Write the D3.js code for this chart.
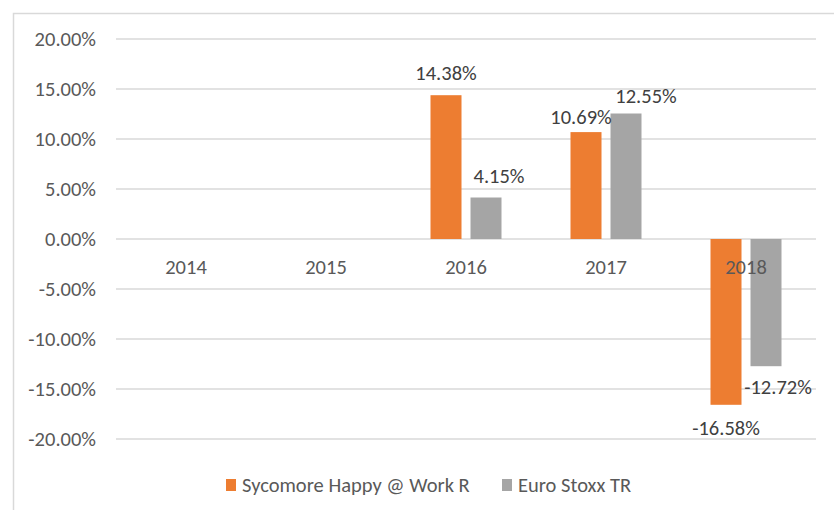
<!DOCTYPE html>
<html>
<head>
<meta charset="utf-8">
<script src="https://cdn.jsdelivr.net/npm/d3@7"></script>
<style>
  body { margin: 0; background: #fff; }
  #viz text { font-family: Carlito, Calibri, "Liberation Sans", Arial, sans-serif; fill: #595959; }
</style>
</head>
<body>
<div id="viz"></div>
<script>
const years = ["2014", "2015", "2016", "2017", "2018"];
const seriesNames = ["Sycomore Happy @ Work R", "Euro Stoxx TR"];
const sycomore = [null, null, 0.1438, 0.1069, -0.1658];
const euroStoxx = [null, null, 0.0415, 0.1255, -0.1272];
const yTicks = [-0.20, -0.15, -0.10, -0.05, 0, 0.05, 0.10, 0.15, 0.20];
const colors = ["#ED7D31", "#A5A5A5"];

// manual nudges of the data labels (as moved in the original)
const labelNudge = [
  [null, null, [0, 0], [-5, 7], [0, 0]],
  [null, null, [13, 0], [20, 4], [12, -2]]
];

const width = 834;
const height = 510;
const fontSize = "20.5px";

const svg = d3.select("#viz")
  .append("svg")
  .attr("width", width)
  .attr("height", height);

// chart frame
svg.append("path")
  .attr("d", "M13.5," + height + "V13.5H" + width)
  .attr("fill", "none")
  .attr("stroke", "#D9D9D9")
  .attr("stroke-width", 1.5);

const x0 = d3.scaleBand()
  .domain(years)
  .range([116, 816]);

const x1 = d3.scaleBand()
  .domain(seriesNames)
  .range([0, x0.bandwidth()])
  .paddingInner(0.225)
  .paddingOuter(0.8625);

const y = d3.scaleLinear()
  .domain([-0.2, 0.2])
  .range([439, 39]);

const locale = d3.formatLocale({ decimal: ".", thousands: ",", grouping: [3], currency: ["", ""], minus: "-" });
const pct = locale.format(".2%");

// gridlines
svg.append("g")
  .selectAll("line")
  .data(yTicks)
  .enter()
  .append("line")
  .attr("x1", 116)
  .attr("x2", 816)
  .attr("y1", d => y(d))
  .attr("y2", d => y(d))
  .attr("stroke", "#D9D9D9")
  .attr("stroke-width", 1.3);

// y axis labels
svg.append("g")
  .selectAll("text")
  .data(yTicks)
  .enter()
  .append("text")
  .attr("x", 96)
  .attr("y", d => y(d))
  .attr("dy", "0.35em")
  .attr("text-anchor", "end")
  .style("font-size", fontSize)
  .text(d => pct(d));

const allSeries = [sycomore, euroStoxx];

const bars = [];
allSeries.forEach((vals, si) => {
  vals.forEach((v, i) => {
    if (v !== null) bars.push({ s: si, i: i, v: v });
  });
});

svg.append("g")
  .selectAll("rect")
  .data(bars)
  .enter()
  .append("rect")
  .attr("x", d => x0(years[d.i]) + x1(seriesNames[d.s]))
  .attr("width", x1.bandwidth())
  .attr("y", d => y(Math.max(0, d.v)))
  .attr("height", d => Math.abs(y(d.v) - y(0)))
  .attr("fill", d => colors[d.s]);

// category labels
svg.append("g")
  .selectAll("text")
  .data(years)
  .enter()
  .append("text")
  .attr("x", d => x0(d) + x0.bandwidth() / 2)
  .attr("y", y(0) + 28)
  .attr("dy", "0.35em")
  .attr("text-anchor", "middle")
  .style("font-size", fontSize)
  .text(d => d);

// data labels
svg.append("g")
  .selectAll("text")
  .data(bars)
  .enter()
  .append("text")
  .attr("x", d => x0(years[d.i]) + x1(seriesNames[d.s]) + x1.bandwidth() / 2 + labelNudge[d.s][d.i][0])
  .attr("y", d => (d.v >= 0 ? y(d.v) - 22 : y(d.v) + 23) + labelNudge[d.s][d.i][1])
  .attr("dy", "0.35em")
  .attr("text-anchor", "middle")
  .style("font-size", fontSize)
  .style("fill", "#404040")
  .text(d => pct(d.v));

// legend
const legend = svg.append("g");
const legendX = [226, 502];
seriesNames.forEach((name, si) => {
  legend.append("rect")
    .attr("x", legendX[si])
    .attr("y", 479)
    .attr("width", 10)
    .attr("height", 12)
    .attr("fill", colors[si]);
  legend.append("text")
    .attr("x", legendX[si] + 16)
    .attr("y", 485)
    .attr("dy", "0.35em")
    .style("font-size", fontSize)
    .text(name);
});
</script>
</body>
</html>
